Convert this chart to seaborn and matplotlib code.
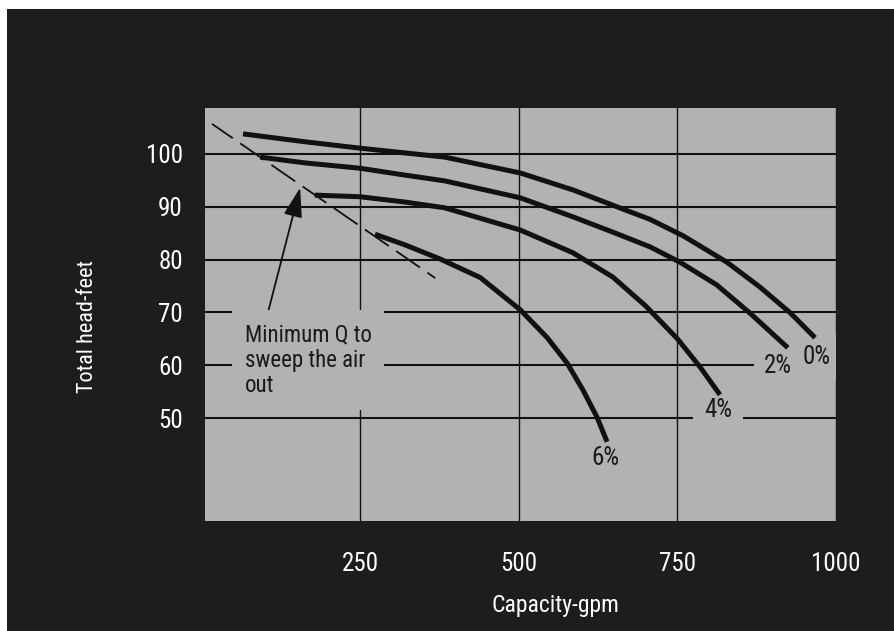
import numpy as np
import pandas as pd
import matplotlib
matplotlib.use("Agg")
import matplotlib.pyplot as plt
import seaborn as sns

sns.set_style("white")
plt.rcParams['font.family'] = ['Roboto Condensed', 'Liberation Sans', 'DejaVu Sans']

# pump curves (capacity gpm, total head ft)
q_0 = [65, 163, 249, 320, 383, 502, 585, 648, 707, 759, 828, 880, 928, 967]
h_0 = [103.8, 102.3, 101.1, 100.2, 99.4, 96.4, 93.2, 90.3, 87.6, 84.5, 79.5, 74.8, 69.9, 65.2]
q_2 = [92, 163, 249, 320, 383, 502, 585, 648, 707, 754, 812, 864, 924]
h_2 = [99.4, 98.3, 97.3, 96.0, 94.9, 91.7, 88.1, 85.2, 82.4, 79.5, 75.2, 69.9, 63.3]
q_4 = [178, 249, 320, 383, 502, 585, 648, 700, 750, 786, 817]
h_4 = [92.2, 91.9, 90.9, 89.8, 85.6, 81.3, 76.7, 71.2, 65.0, 59.6, 54.4]
q_6 = [273, 320, 376, 439, 502, 544, 576, 601, 623, 639]
h_6 = [84.8, 82.8, 80.1, 76.6, 70.5, 65.3, 60.4, 55.3, 50.2, 45.5]

# minimum flow line (dashed)
q_min = [16, 368]
h_min = [105.7, 76.5]

curve_labels = ['0%', '2%', '4%', '6%']
label_q = [970, 909, 814, 636]
label_h = [61.6, 59.8, 51.5, 42.4]

note = "Minimum Q to\nsweep the air\nout"
note_tip = (155, 93.6)
note_pos = (68, 68.0)

x_ticks = [250, 500, 750, 1000]
y_ticks = [50, 60, 70, 80, 90, 100]

panel_bg = '#1d1d1d'
plot_bg = '#b2b2b2'
ink = '#111111'

fig = plt.figure(figsize=(8.94, 6.31), dpi=100, facecolor='white')
fig.add_artist(plt.Rectangle((7 / 894, 0), 1, 1 - 9 / 631, transform=fig.transFigure,
                             facecolor=panel_bg, edgecolor='none', zorder=-10))
ax = fig.add_axes([205 / 894, 110 / 631, 631 / 894, 413 / 631])
ax.set_facecolor(plot_bg)

for q, h in [(q_0, h_0), (q_2, h_2), (q_4, h_4), (q_6, h_6)]:
    sns.lineplot(x=q, y=h, ax=ax, color=ink, lw=3.6, sort=False, zorder=4,
                 solid_capstyle='butt', solid_joinstyle='round')

ax.plot(q_min, h_min, color=ink, lw=1.3, linestyle=(2, (16, 5)), zorder=4)

# labels sit on gaps in the grid, so give them a box in the plot colour
for lab, q, h in zip(curve_labels, label_q, label_h):
    ax.text(q, h, lab, ha='center', va='center', fontsize=18, color='#1a1a1a', zorder=3,
            clip_on=True,
            bbox=dict(boxstyle='square,pad=0.42', facecolor=plot_bg, edgecolor='none'))

ax.annotate(note, xy=note_tip, xytext=note_pos, ha='left', va='top', fontsize=16.5,
            color='#1a1a1a', linespacing=1.15, zorder=3,
            bbox=dict(boxstyle='square,pad=0.55', facecolor=plot_bg, edgecolor='none'),
            arrowprops=dict(arrowstyle='-|>,head_length=1.1,head_width=0.35', color=ink,
                            lw=1.3, relpos=(0.16, 1.0), shrinkA=0, shrinkB=0))

ax.set_xlim(5, 1000)
ax.set_ylim(30.5, 108.7)
ax.set_xticks(x_ticks)
ax.set_yticks(y_ticks)
ax.set_axisbelow(True)
ax.grid(axis='y', color=ink, lw=1.5)
ax.grid(axis='x', color=ink, lw=1.0)
for s in ax.spines.values():
    s.set_visible(False)

ax.tick_params(axis='both', length=0, labelcolor='white', labelsize=18)
ax.tick_params(axis='x', pad=22)
ax.tick_params(axis='y', pad=16)

ax.set_xlabel('Capacity-gpm', color='white', fontsize=17)
ax.set_ylabel('Total head-feet', color='white', fontsize=16)
ax.xaxis.set_label_coords(0.555, -0.177)
ax.yaxis.set_label_coords(-0.170, 0.47)

fig.savefig('out.png', dpi=100, facecolor=fig.get_facecolor())
